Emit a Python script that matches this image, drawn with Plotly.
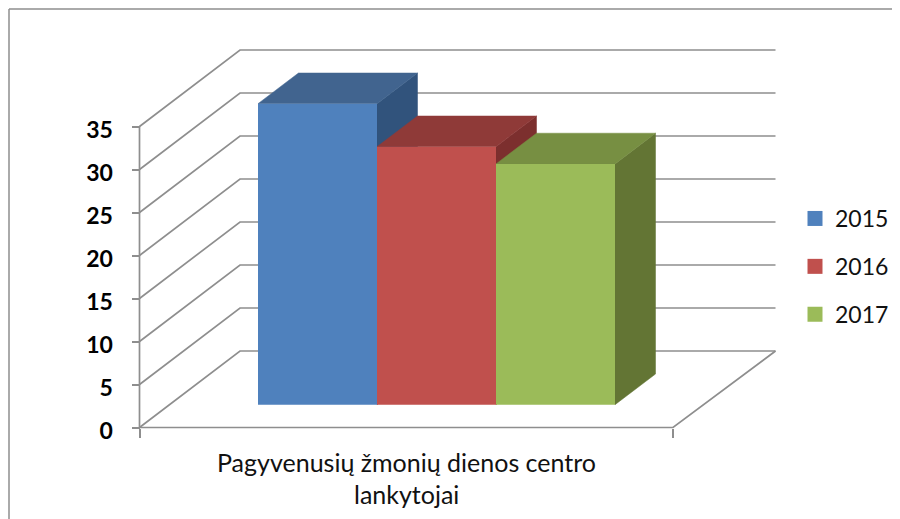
import plotly.graph_objects as go

# --- data ---
years = ["2015", "2016", "2017"]
values = [35, 30, 28]
category_lines = ["Pagyvenusių žmonių dienos centro", "lankytojai"]
y_ticks = [0, 5, 10, 15, 20, 25, 30, 35]
front_colors = ["#4f81bd", "#c0504d", "#9bbb59"]
top_colors = ["#41648f", "#8f3a38", "#778f42"]
side_colors = ["#31537c", "#7c2f2e", "#637534"]

# --- layout constants (x axis is in window pixels, y axis in value units) ---
# the page has an 8px body margin, so the figure starts at window pixel (8, 8)
OFF = 8
WIN_W, WIN_H = 900, 519
W, H = WIN_W - OFF, WIN_H - OFF
PX = 8.6               # pixels per value unit
Y0 = 427.5             # window pixel row of value 0
to_v = lambda px: px / PX
GRID = "#8e8e8e"
XL, XR = 139.5, 673
BL, BR = 240, 775.5
WALL_DY = to_v(76.5)
BAR_W = 119
BAR_X0 = 258
BAR_BASE = to_v(Y0 - 404.7)
DX, DY = 40.5, to_v(30.7)


def paper_x(px):
    return (px - OFF) / W


def paper_y(px):
    return (WIN_H - px) / H


fig = go.Figure()

# walls and gridlines
for v in y_ticks:
    fig.add_trace(go.Scatter(x=[XL, BL, BR], y=[v, v + WALL_DY, v + WALL_DY], mode="lines",
                             line=dict(color=GRID, width=1.7), showlegend=False, hoverinfo="skip"))
fig.add_trace(go.Scatter(x=[XL, XL, XR, BR], y=[y_ticks[-1], 0, 0, WALL_DY], mode="lines",
                         line=dict(color=GRID, width=1.7), showlegend=False, hoverinfo="skip"))

# 3-D side and top faces, worked out from the values
for i, v in enumerate(values):
    l = BAR_X0 + i * BAR_W
    r = l + BAR_W
    t = BAR_BASE + v
    fig.add_trace(go.Scatter(x=[r, r + DX, r + DX, r, r], y=[BAR_BASE, BAR_BASE + DY, t + DY, t, BAR_BASE],
                             mode="lines", fill="toself", fillcolor=side_colors[i],
                             line=dict(color=side_colors[i], width=0.5), showlegend=False, hoverinfo="skip"))
    fig.add_trace(go.Scatter(x=[l, l + DX, r + DX, r, l], y=[t, t + DY, t + DY, t, t],
                             mode="lines", fill="toself", fillcolor=top_colors[i],
                             line=dict(color=top_colors[i], width=0.5), showlegend=False, hoverinfo="skip"))

# front faces, on an overlaying axis pair so they cover the sides behind them
for i, (yr, v) in enumerate(zip(years, values)):
    fig.add_trace(go.Bar(x=[BAR_X0 + (i + 0.5) * BAR_W], y=[v], base=BAR_BASE, width=BAR_W,
                         marker=dict(color=front_colors[i], line=dict(width=0)),
                         xaxis="x2", yaxis="y2", showlegend=False, name=yr))

# legend entries
for i, yr in enumerate(years):
    fig.add_trace(go.Scatter(x=[None], y=[None], mode="markers", name=yr, legendgroup=yr,
                             marker=dict(symbol="square", size=15, color=front_colors[i])))

xr = [OFF, WIN_W]
yr_ = [(Y0 - WIN_H) / PX, (Y0 - OFF) / PX]
font = "Lato, Carlito, Calibri, sans-serif"

for i, line in enumerate(category_lines):
    fig.add_annotation(x=406, y=(Y0 - [462, 494][i]) / PX, text=line, showarrow=False,
                       font=dict(family=font, size=25, color="#111111"), xanchor="center", yanchor="middle")

fig.update_layout(
    width=W, height=H, margin=dict(l=0, r=0, t=0, b=0),
    paper_bgcolor="white", plot_bgcolor="white", barmode="overlay",
    font=dict(family=font),
    xaxis=dict(range=xr, domain=[0, 1], showgrid=False, zeroline=False, showline=False,
               tickmode="array", tickvals=[XL, XR], ticks="outside", ticklen=9, tickwidth=1.7,
               tickcolor=GRID, showticklabels=False, anchor="free", position=paper_y(Y0)),
    yaxis=dict(range=yr_, domain=[0, 1], showgrid=False, zeroline=False, showline=False,
               tickmode="array", tickvals=y_ticks, ticks="outside", ticklen=8, tickwidth=1.7,
               tickcolor=GRID, ticklabelstandoff=14, ticklabelshift=3,
               tickfont=dict(family=font, size=23, color="#000000", weight=700),
               anchor="free", position=paper_x(XL)),
    xaxis2=dict(range=xr, overlaying="x", visible=False),
    yaxis2=dict(range=yr_, overlaying="y", visible=False),
    legend=dict(x=paper_x(795), y=paper_y(197), xanchor="left", yanchor="top", bgcolor="rgba(0,0,0,0)",
                font=dict(family=font, size=23, color="#111111"), tracegroupgap=15,
                itemwidth=30),
    shapes=[
        dict(type="line", xref="paper", yref="paper", x0=paper_x(9), x1=paper_x(9), y0=0, y1=paper_y(9),
             line=dict(color=GRID, width=1.5)),
        dict(type="line", xref="paper", yref="paper", x0=paper_x(9), x1=1, y0=paper_y(9), y1=paper_y(9),
             line=dict(color=GRID, width=1.5)),
    ],
)

fig.write_html("out.html")
